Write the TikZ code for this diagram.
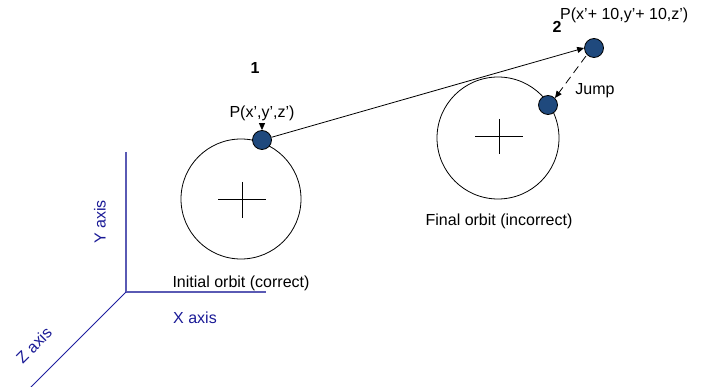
\documentclass[tikz,border=0pt]{standalone}
\usepackage{fontspec}
\setmainfont{Liberation Sans}
\usetikzlibrary{arrows.meta}
\definecolor{dotblue}{RGB}{31,73,125}
\definecolor{axisline}{RGB}{90,90,180}
\definecolor{zline}{RGB}{30,30,160}
\definecolor{axistext}{RGB}{26,26,150}
\begin{document}
\begin{tikzpicture}[x=1pt,y=-1pt,
  lbl/.style={inner sep=0pt,font=\fontsize{16}{18}\selectfont},
  axlbl/.style={lbl,text=axistext},
  body/.style={circle,draw=black,fill=dotblue,minimum size=19pt,inner sep=0pt,line width=0.8pt},
  orbit/.style={draw=black,line width=0.8pt},
  cross/.style={draw=black,line width=0.7pt},
  arr/.style={-{Triangle[length=7pt,width=6pt]},line width=0.8pt}]
\useasboundingbox (0,0) rectangle (711,387);
% axes
\coordinate (O) at (126,292);
\coordinate (Ytop) at (126,152);
\coordinate (Xend) at (266,292);
\coordinate (Zend) at (30,388);
\draw[axisline,line width=1.6pt] (Ytop) -- (O) -- (Xend);
\draw[zline,line width=1pt] (O) -- (Zend);
\node[axlbl,rotate=90] (ylab) at (100,222) {Y axis};
\node[axlbl] (xlab) at (195,318) {X axis};
\node[axlbl,rotate=45] (zlab) at (34,345) {Z axis};
% initial orbit
\coordinate (c1) at (241,199);
\draw[orbit] (c1) circle (60);
\draw[cross] (218,199) -- (266,199) (242,182) -- (242,218);
\node[lbl] (ilab) at (241,283) {Initial orbit (correct)};
% final orbit
\coordinate (c2) at (498,138);
\draw[orbit] (c2) circle (61);
\draw[cross] (475,136) -- (523,136) (499,119) -- (499,154);
\node[lbl] (flab) at (499,221) {Final orbit (incorrect)};
% bodies
\node[body] (p1) at (262,140) {};
\node[body] (p2) at (594,48) {};
\node[body] (p3) at (548,105) {};
% labels
\node[lbl,font=\fontsize{16}{18}\selectfont\bfseries] (n1) at (255,68) {1};
\node[lbl] (pl1) at (262,113) {P(x’,y’,z’)};
\node[lbl,font=\fontsize{16}{18}\selectfont\bfseries] (n2) at (557,27) {2};
\node[lbl,anchor=west] (pl2) at (560,15) {P(x’+ 10,y’+ 10,z’)};
\node[lbl] (jump) at (595,91) {Jump};
% connectors
\draw[arr] (pl1.south) ++(0,3) coordinate (a1) -- (p1.north);
\draw[arr] (p1) -- (p2.west);
\draw[arr,dashed,dash pattern=on 8pt off 5pt] (p2.south west) ++(-1,1) coordinate (a2) -- (p3.north east);
\end{tikzpicture}
\end{document}
